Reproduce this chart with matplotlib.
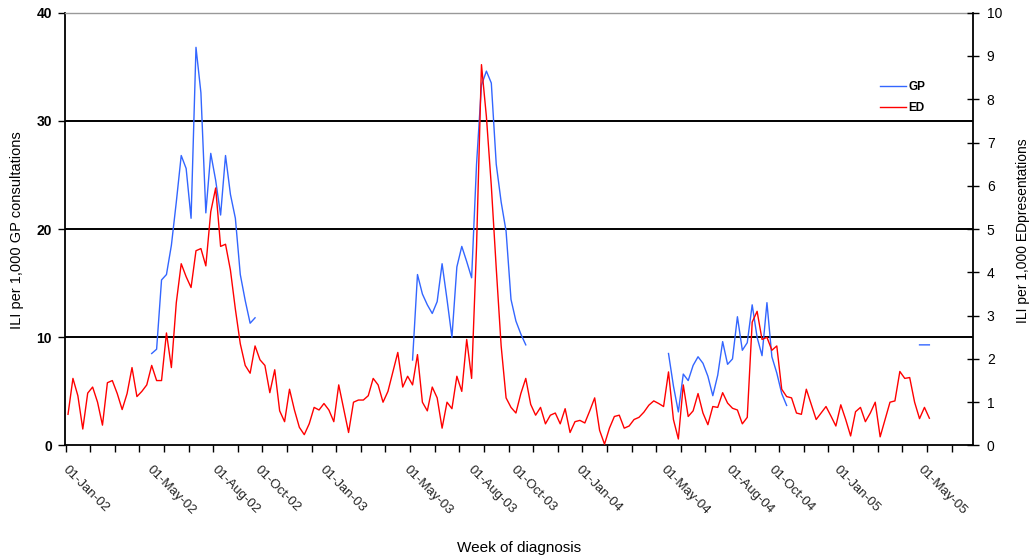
import numpy as np
import pandas as pd
import matplotlib
matplotlib.use('Agg')
import matplotlib.pyplot as plt
import matplotlib.dates as mdates

# ---------------- data ----------------
first_week = '2001-12-31'

# ILI per 1,000 ED presentations (right axis), weekly
ed_rate = [0.72, 1.55, 1.15, 0.38, 1.21, 1.35, 1.0, 0.47, 1.45, 1.5,
           1.2, 0.83, 1.2, 1.8, 1.13, 1.25, 1.4, 1.85, 1.5, 1.5,
           2.6, 1.8, 3.3, 4.2, 3.9, 3.65, 4.5, 4.55, 4.15, 5.4,
           5.95, 4.6, 4.65, 4.05, 3.15, 2.35, 1.85, 1.67, 2.3, 1.98,
           1.85, 1.22, 1.75, 0.8, 0.55, 1.3, 0.82, 0.42, 0.25, 0.5,
           0.88, 0.82, 0.97, 0.82, 0.55, 1.4, 0.85, 0.3, 1.0, 1.05,
           1.05, 1.15, 1.55, 1.4, 1.0, 1.25, 1.7, 2.15, 1.35, 1.6,
           1.4, 2.1, 1.0, 0.8, 1.35, 1.1, 0.4, 1.0, 0.85, 1.6,
           1.25, 2.45, 1.55, 4.6, 8.8, 7.6, 6.0, 4.1, 2.3, 1.1,
           0.88, 0.75, 1.2, 1.55, 0.95, 0.7, 0.88, 0.5, 0.7, 0.75,
           0.5, 0.85, 0.3, 0.55, 0.58, 0.52, 0.8, 1.1, 0.35, 0.03,
           0.4, 0.67, 0.7, 0.4, 0.45, 0.6, 0.65, 0.77, 0.93, 1.03,
           0.97, 0.9, 1.7, 0.6, 0.15, 1.4, 0.67, 0.8, 1.2, 0.75,
           0.48, 0.9, 0.88, 1.22, 0.98, 0.86, 0.82, 0.5, 0.65, 2.85,
           3.1, 2.45, 2.5, 2.2, 2.3, 1.3, 1.13, 1.1, 0.75, 0.72,
           1.3, 0.95, 0.6, 0.75, 0.9, 0.68, 0.45, 0.94, 0.6, 0.22,
           0.78, 0.88, 0.55, 0.75, 1.0, 0.2, 0.6, 1.0, 1.03, 1.71,
           1.55, 1.57, 1.0, 0.62, 0.88, 0.63]

# ILI per 1,000 GP consultations (left axis), weekly, in seasonal segments
gp_2002_start = '2002-04-29'
gp_2002 = [8.5, 8.9, 15.3, 15.8, 18.5, 22.5, 26.8, 25.6, 21.0, 36.8,
           32.6, 21.5, 27.0, 24.5, 21.3, 26.8, 23.2, 21.0, 15.8, 13.4,
           11.3, 11.8]
gp_2003_start = '2003-05-05'
gp_2003 = [7.9, 15.8, 14.0, 13.0, 12.2, 13.3, 16.8, 13.5, 10.0, 16.5,
           18.4, 17.0, 15.5, 26.0, 33.3, 34.6, 33.5, 26.0, 22.5, 19.8,
           13.5, 11.5, 10.3, 9.3]
gp_2004_start = '2004-05-03'
gp_2004 = [8.5, 5.5, 3.1, 6.6, 6.0, 7.4, 8.2, 7.6, 6.4, 4.6,
           6.5, 9.6, 7.5, 8.0, 11.9, 8.8, 9.5, 13.0, 10.0, 8.3,
           13.2, 8.2, 6.7, 4.8, 3.7]
gp_2005_start = '2005-04-25'
gp_2005 = [9.3, 9.3, 9.3]

date_labels = ['01-Jan-02', '01-May-02', '01-Aug-02', '01-Oct-02',
               '01-Jan-03', '01-May-03', '01-Aug-03', '01-Oct-03',
               '01-Jan-04', '01-May-04', '01-Aug-04', '01-Oct-04',
               '01-Jan-05', '01-May-05']
gp_ticks = [0, 10, 20, 30, 40]
ed_ticks = [0, 1, 2, 3, 4, 5, 6, 7, 8, 9, 10]

# ---------------- build series ----------------
plt.rcParams['font.family'] = ['Liberation Sans', 'DejaVu Sans']

weeks = pd.date_range(first_week, periods=len(ed_rate), freq='7D')
gp = pd.Series(np.nan, index=weeks)
for start, vals in [(gp_2002_start, gp_2002), (gp_2003_start, gp_2003),
                    (gp_2004_start, gp_2004), (gp_2005_start, gp_2005)]:
    idx = pd.date_range(start, periods=len(vals), freq='7D')
    gp.loc[idx] = vals

fig = plt.figure(figsize=(10.32, 5.6), dpi=100)
ax = fig.add_axes([0.0625, 0.2045, 0.8803, 0.7728])
ax2 = ax.twinx()

l_gp, = ax.plot(weeks, gp.values, color='#3366FF', lw=1.0, zorder=3)
l_ed, = ax2.plot(weeks, ed_rate, color='#FF0000', lw=1.0, zorder=3)

t0 = pd.Timestamp(first_week)
x_left = t0 - pd.Timedelta(days=5)
x_right = t0 + pd.Timedelta(days=1287)
ax.set_xlim(x_left, x_right)

ax.set_ylim(0, 40)
ax2.set_ylim(0, 10)
ax.set_yticks(gp_ticks)
ax2.set_yticks(ed_ticks)

# grid lines at interior GP ticks
ax.grid(axis='y', color='black', lw=1.4, zorder=1)
gl = ax.get_ygridlines()
gl[0].set_visible(False)
gl[-1].set_visible(False)
ax.set_axisbelow(True)

# x ticks: small marks every 5 weeks, labels at given dates
minor_locs = pd.date_range(t0 - pd.Timedelta(hours=84), x_right, freq='35D')
ax.set_xticks(mdates.date2num(minor_locs), minor=True)
label_dates = pd.to_datetime(date_labels, format='%d-%b-%y')
ax.set_xticks(mdates.date2num(label_dates))
ax.set_xticklabels(date_labels, rotation=-45, ha='left', va='top',
                   rotation_mode='anchor', fontsize=9.5, color='#222222')
ax.tick_params(axis='x', which='major', length=0, pad=13)
ax.tick_params(axis='x', which='minor', length=5, width=1.0,
               direction='out', color='black')

ax.tick_params(axis='y', which='major', direction='out', length=5,
               width=1.0, labelsize=10, pad=4)
for t in ax.get_yticklabels():
    t.set_fontweight('bold')
ax2.tick_params(axis='y', which='major', direction='inout', length=8,
                width=1.0, labelsize=10, pad=6)

# spines
for s in ['left', 'bottom']:
    ax.spines[s].set_color('black')
    ax.spines[s].set_linewidth(1.3)
ax.spines['right'].set_visible(False)
ax.spines['top'].set_color('#999999')
ax.spines['top'].set_linewidth(1.0)
for s in ['left', 'bottom', 'top']:
    ax2.spines[s].set_visible(False)
ax2.spines['right'].set_color('black')
ax2.spines['right'].set_linewidth(1.3)

# labels
ax.set_ylabel('ILI per 1,000 GP consultations', fontsize=10.5)
ax.yaxis.set_label_coords(-0.0446, 0.498)
ax2.set_ylabel('ILI per 1,000 EDpresentations', fontsize=10)
ax2.yaxis.set_label_coords(1.0475, 0.496)
ax.set_xlabel('Week of diagnosis', fontsize=11)
ax.xaxis.set_label_coords(0.5, -0.221)

ax2.legend([l_gp, l_ed], ['GP', 'ED'], loc='upper left',
           bbox_to_anchor=(880 / 1032, 1 - 81 / 560),
           bbox_transform=fig.transFigure, frameon=False,
           borderpad=0, borderaxespad=0, handlelength=2.2,
           handletextpad=0.2, labelspacing=0.75,
           prop={'weight': 'bold', 'size': 8.5})

fig.savefig('out.png', dpi=100)
